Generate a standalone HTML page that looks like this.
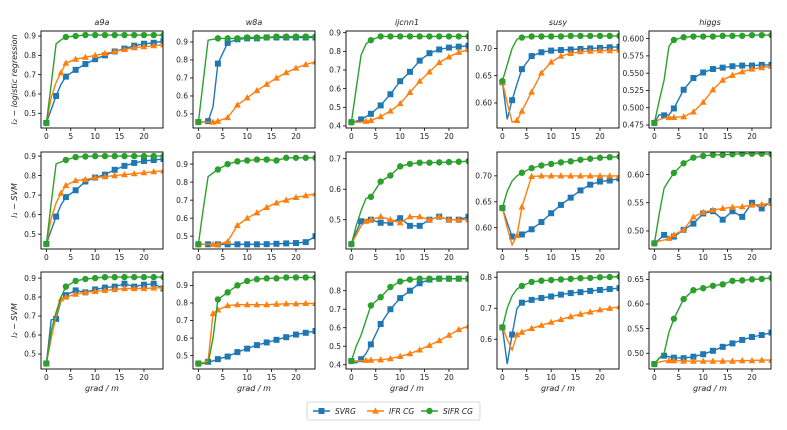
<!DOCTYPE html>
<html><head><meta charset="utf-8">
<style>
body{margin:0;background:#fff;}
svg{display:block;font-family:"DejaVu Sans","Liberation Sans",sans-serif;}
</style></head>
<body>
<svg id="fig" width="787" height="430" viewBox="0 0 787 430" xmlns="http://www.w3.org/2000/svg"></svg>
<script>
const X = [0,1,2,3,4,6,8,10,12,14,16,18,20,22,24];
const datasets = ["a9a","w8a","ijcnn1","susy","higgs"];
const rowLabels = ["l\u2082 \u2212 logistic regression","l\u2081 \u2212 SVM","l\u2082 \u2212 SVM"];
const xTicks = [0,5,10,15,20];
// y domains [min,max] per panel (row-major)
const yDomains = [
 [0.424,0.926],[0.422,0.961],[0.389,0.909],[0.554,0.732],[0.4707,0.611],
 [0.424,0.921],[0.429,0.967],[0.404,0.722],[0.559,0.746],[0.468,0.640],
 [0.421,0.932],[0.424,0.976],[0.377,0.901],[0.504,0.817],[0.468,0.665]];
const yTicks = [
 [0.5,0.6,0.7,0.8,0.9],[0.5,0.6,0.7,0.8,0.9],[0.4,0.5,0.6,0.7,0.8,0.9],[0.60,0.65,0.70],[0.475,0.500,0.525,0.550,0.575,0.600],
 [0.5,0.6,0.7,0.8,0.9],[0.5,0.6,0.7,0.8,0.9],[0.5,0.6,0.7],[0.60,0.65,0.70],[0.50,0.55,0.60],
 [0.5,0.6,0.7,0.8,0.9],[0.5,0.6,0.7,0.8,0.9],[0.4,0.5,0.6,0.7,0.8],[0.6,0.7,0.8],[0.50,0.55,0.60,0.65]];
const yDecimals = [1,1,1,2,3, 1,1,1,2,2, 1,1,1,1,2];
const svrg = [
 [0.45,0.52,0.59,0.65,0.69,0.725,0.755,0.78,0.80,0.82,0.835,0.85,0.86,0.865,0.875],
 [0.455,0.455,0.46,0.54,0.78,0.895,0.915,0.92,0.92,0.925,0.925,0.925,0.925,0.925,0.925],
 [0.42,0.425,0.435,0.45,0.465,0.51,0.57,0.64,0.69,0.75,0.79,0.81,0.82,0.825,0.83],
 [0.638,0.57,0.605,0.635,0.662,0.686,0.693,0.696,0.697,0.698,0.699,0.700,0.701,0.702,0.703],
 [0.478,0.49,0.489,0.49,0.499,0.526,0.543,0.551,0.556,0.558,0.56,0.561,0.561,0.562,0.562],
 [0.45,0.52,0.59,0.65,0.69,0.725,0.77,0.79,0.805,0.83,0.85,0.865,0.875,0.88,0.885],
 [0.455,0.455,0.455,0.455,0.455,0.455,0.455,0.455,0.455,0.456,0.458,0.46,0.462,0.467,0.50],
 [0.42,0.46,0.495,0.50,0.50,0.49,0.49,0.505,0.48,0.48,0.50,0.51,0.50,0.50,0.51],
 [0.638,0.61,0.583,0.585,0.587,0.597,0.611,0.628,0.644,0.658,0.672,0.683,0.689,0.691,0.695],
 [0.478,0.485,0.493,0.488,0.490,0.502,0.513,0.531,0.535,0.520,0.535,0.525,0.550,0.540,0.553],
 [0.45,0.68,0.685,0.78,0.81,0.835,0.825,0.84,0.85,0.855,0.87,0.855,0.865,0.87,0.845],
 [0.455,0.46,0.465,0.47,0.48,0.495,0.52,0.54,0.56,0.575,0.59,0.605,0.62,0.63,0.64],
 [0.42,0.41,0.43,0.46,0.51,0.62,0.70,0.76,0.80,0.84,0.86,0.865,0.865,0.865,0.865],
 [0.638,0.52,0.615,0.70,0.718,0.727,0.733,0.738,0.744,0.749,0.752,0.756,0.759,0.762,0.765],
 [0.478,0.49,0.495,0.493,0.491,0.490,0.493,0.498,0.505,0.513,0.52,0.527,0.533,0.537,0.542]];
const ifr = [
 [0.45,0.58,0.66,0.71,0.76,0.78,0.79,0.80,0.81,0.82,0.83,0.84,0.845,0.85,0.855],
 [0.455,0.455,0.455,0.455,0.46,0.48,0.55,0.59,0.63,0.665,0.70,0.73,0.755,0.775,0.79],
 [0.42,0.42,0.42,0.425,0.43,0.45,0.48,0.52,0.58,0.64,0.69,0.74,0.77,0.795,0.81],
 [0.638,0.60,0.565,0.568,0.585,0.62,0.655,0.675,0.686,0.691,0.694,0.695,0.696,0.696,0.697],
 [0.478,0.483,0.485,0.486,0.486,0.487,0.494,0.508,0.526,0.540,0.547,0.552,0.556,0.558,0.560],
 [0.45,0.58,0.66,0.71,0.75,0.775,0.78,0.79,0.795,0.80,0.805,0.81,0.815,0.82,0.825],
 [0.455,0.455,0.455,0.455,0.455,0.47,0.56,0.60,0.63,0.66,0.685,0.70,0.715,0.725,0.735],
 [0.42,0.45,0.48,0.495,0.50,0.51,0.50,0.49,0.51,0.51,0.50,0.51,0.50,0.50,0.50],
 [0.638,0.60,0.567,0.585,0.64,0.699,0.70,0.70,0.70,0.70,0.70,0.70,0.70,0.70,0.70],
 [0.478,0.482,0.484,0.487,0.493,0.502,0.525,0.533,0.537,0.540,0.542,0.543,0.546,0.547,0.549],
 [0.45,0.58,0.70,0.79,0.80,0.815,0.825,0.83,0.835,0.84,0.845,0.845,0.845,0.848,0.85],
 [0.455,0.46,0.47,0.74,0.76,0.785,0.79,0.79,0.79,0.79,0.793,0.795,0.795,0.797,0.797],
 [0.42,0.42,0.422,0.424,0.425,0.427,0.433,0.445,0.46,0.48,0.505,0.53,0.56,0.59,0.61],
 [0.638,0.60,0.565,0.615,0.623,0.635,0.645,0.655,0.664,0.673,0.681,0.688,0.695,0.70,0.705],
 [0.478,0.482,0.484,0.485,0.485,0.484,0.484,0.484,0.484,0.484,0.484,0.485,0.485,0.486,0.486]];
const sifr = [
 [0.45,0.65,0.86,0.88,0.895,0.90,0.905,0.905,0.905,0.905,0.905,0.905,0.905,0.905,0.905],
 [0.455,0.68,0.91,0.915,0.92,0.92,0.92,0.925,0.925,0.925,0.93,0.93,0.93,0.93,0.93],
 [0.42,0.6,0.78,0.84,0.86,0.88,0.88,0.88,0.88,0.88,0.88,0.88,0.88,0.88,0.88],
 [0.64,0.67,0.70,0.717,0.72,0.722,0.722,0.722,0.722,0.723,0.723,0.723,0.723,0.723,0.723],
 [0.478,0.51,0.54,0.589,0.598,0.602,0.603,0.603,0.603,0.604,0.604,0.604,0.605,0.605,0.605],
 [0.45,0.66,0.86,0.87,0.88,0.895,0.898,0.90,0.90,0.90,0.90,0.90,0.90,0.90,0.90],
 [0.455,0.65,0.83,0.85,0.87,0.90,0.915,0.92,0.925,0.925,0.92,0.935,0.935,0.935,0.935],
 [0.42,0.48,0.53,0.57,0.575,0.625,0.645,0.675,0.683,0.687,0.687,0.688,0.689,0.69,0.692],
 [0.638,0.67,0.69,0.70,0.706,0.715,0.72,0.723,0.726,0.728,0.731,0.733,0.735,0.736,0.737],
 [0.478,0.53,0.576,0.59,0.603,0.62,0.63,0.633,0.635,0.635,0.636,0.637,0.637,0.637,0.636],
 [0.45,0.62,0.72,0.80,0.855,0.885,0.895,0.90,0.905,0.905,0.905,0.905,0.905,0.905,0.905],
 [0.455,0.455,0.455,0.60,0.82,0.86,0.9,0.925,0.935,0.94,0.94,0.945,0.945,0.945,0.945],
 [0.42,0.5,0.56,0.64,0.72,0.765,0.82,0.85,0.86,0.865,0.865,0.865,0.865,0.865,0.865],
 [0.638,0.70,0.74,0.762,0.772,0.785,0.789,0.791,0.793,0.795,0.797,0.798,0.80,0.801,0.802],
 [0.478,0.49,0.50,0.543,0.57,0.61,0.628,0.632,0.637,0.64,0.647,0.648,0.65,0.651,0.653]];
const seriesNames = ["SVRG","IFR CG","SIFR CG"];

const NS="http://www.w3.org/2000/svg";
const fig=document.getElementById('fig');
function mk(tag,attrs,parent){const e=document.createElementNS(NS,tag);for(const k in attrs)e.setAttribute(k,attrs[k]);(parent||fig).appendChild(e);return e;}
const colLeft=[41,193,346,497,649], W=122;
const rowTop=[31,152,272], H=97;
const XMIN=-1.1, XMAX=23.9;
const colors=["#1f77b4","#ff7f0e","#2ca02c"];
const markerSkip=[[1,3],[1,2],[1,2,3]];

function marker(g,k,x,y,c){
  let m;
  if(k===0){m=mk('rect',{x:x-3,y:y-3,width:6,height:6,fill:c},g);}
  else if(k===1){m=mk('polygon',{points:`${x},${y-3.6} ${x-3.4},${y+2.6} ${x+3.4},${y+2.6}`,fill:c},g);}
  else {m=mk('circle',{cx:x,cy:y,r:3.2,fill:c},g);}
  
  
}

for(let r=0;r<3;r++)for(let c=0;c<5;c++){
  const p=r*5+c, L=colLeft[c], T=rowTop[r], [y0,y1]=yDomains[p];
  const sx=v=>L+(v-XMIN)/(XMAX-XMIN)*W;
  const sy=v=>T+H-(v-y0)/(y1-y0)*H;
  const g=mk('g',{});
  
  
  const cp=mk('clipPath',{id:'cp'+p},g); mk('rect',{x:L,y:T,width:W,height:H},cp);
  if(r===0){const t=mk('text',{x:L+W/2,y:T-6,'text-anchor':'middle','font-size':8,'font-style':'italic',fill:'#222'},g);t.textContent=datasets[c];
    }
  xTicks.forEach(v=>{const x=sx(v);mk('line',{x1:x,x2:x,y1:T+H,y2:T+H+3,stroke:'#000','stroke-width':0.8},g);
    const t=mk('text',{x:x,y:T+H+11,'text-anchor':'middle','font-size':7.5,fill:'#222'},g);t.textContent=v;
    });
  yTicks[p].forEach(v=>{const y=sy(v);mk('line',{x1:L-3,x2:L,y1:y,y2:y,stroke:'#000','stroke-width':0.8},g);
    const t=mk('text',{x:L-5,y:y+2.7,'text-anchor':'end','font-size':7.5,fill:'#222'},g);t.textContent=v.toFixed(yDecimals[p]);
    });
  const dg=mk('g',{'clip-path':`url(#cp${p})`},g);
  [svrg,ifr,sifr].forEach((s,k)=>{
    const pts=X.map((x,i)=>sx(x).toFixed(1)+','+sy(s[p][i]).toFixed(1)).join(' ');
    const pl=mk('polyline',{points:pts,fill:'none',stroke:colors[k],'stroke-width':1.4},dg);
    
    
    X.forEach((x,i)=>{if(markerSkip[k].includes(i))return;marker(dg,k,sx(x),sy(s[p][i]),colors[k]);});
  });
  const fr=mk('rect',{x:L,y:T,width:W,height:H,fill:'none',stroke:'#000','stroke-width':0.9},g);
  
  if(r===2){const t=mk('text',{x:L+W/2,y:T+H+22,'text-anchor':'middle','font-size':8,'font-style':'italic',fill:'#222'},g);t.textContent='grad / m';
    }
  if(c===0){const cy=T+H/2;const t=mk('text',{x:17,y:cy,'text-anchor':'middle','font-size':8,'font-style':'italic',fill:'#222',transform:`rotate(-90 17 ${cy})`},g);t.textContent=rowLabels[r];
    }
}
// legend
const lg=mk('g',{});


mk('rect',{x:307,y:402,width:173,height:18,fill:'#fff',stroke:'#ccc','stroke-width':0.8,rx:2},lg);
const lx=[313,367,421];
seriesNames.forEach((n,k)=>{
  const e=mk('g',{},lg);
  
  
  mk('line',{x1:lx[k],x2:lx[k]+17,y1:411,y2:411,stroke:colors[k],'stroke-width':1.4},e);
  marker(e,k,lx[k]+8.5,411,colors[k]);
  const t=mk('text',{x:lx[k]+22,y:414,'font-size':7.5,'font-style':'italic',fill:'#222'},e);t.textContent=n;
});
</script>
</body></html>
